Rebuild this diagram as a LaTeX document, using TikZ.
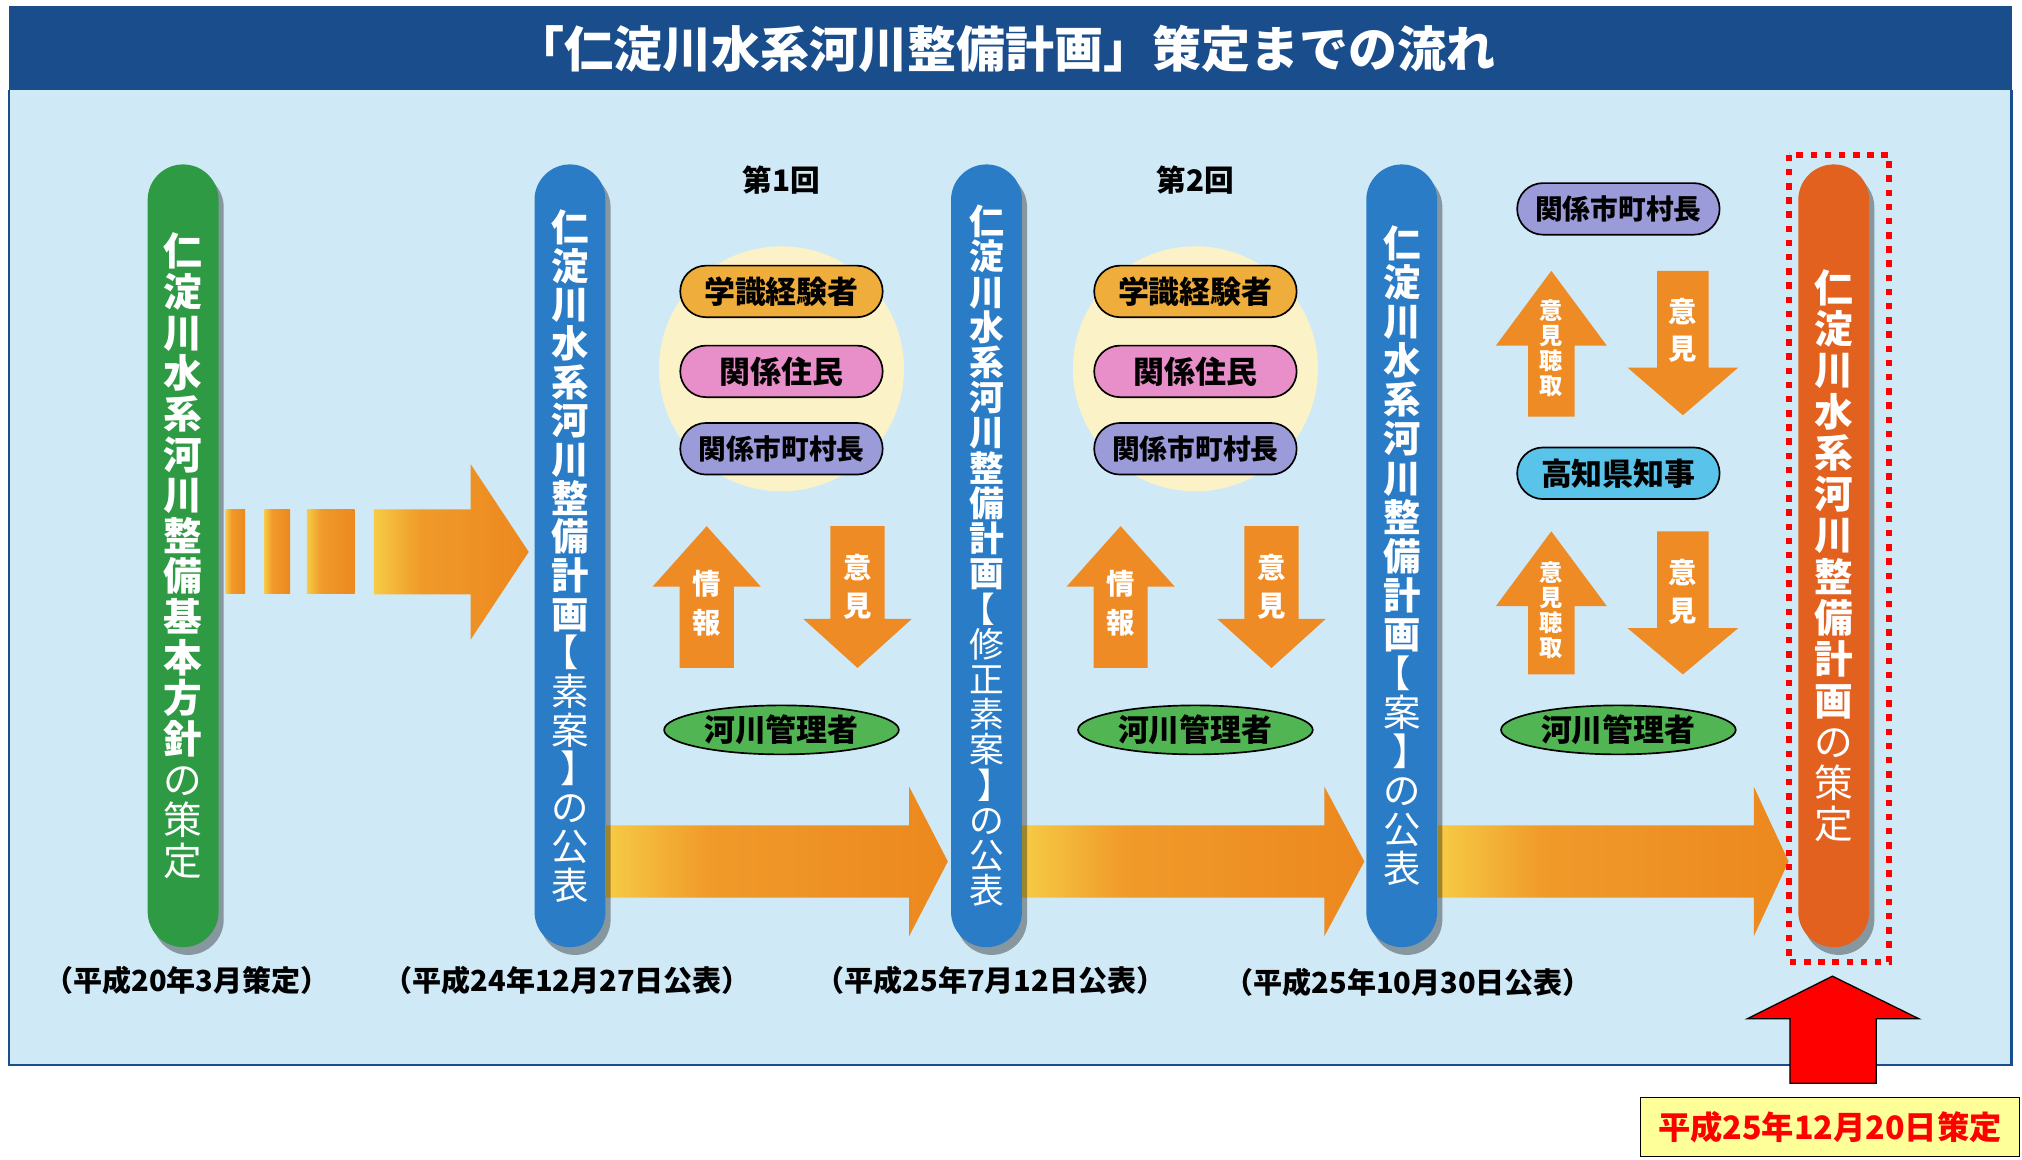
\documentclass[tikz,border=0pt]{standalone}
\usepackage{fontspec}
\setmainfont{Noto Sans CJK JP}
\usetikzlibrary{shapes.geometric,shadows}
\definecolor{titlebar}{HTML}{1A4D8C}
\definecolor{panel}{HTML}{CFE9F6}
\definecolor{pgreen}{HTML}{2F9A44}
\definecolor{pblue}{HTML}{2B7CC6}
\definecolor{porange}{HTML}{E2611F}
\definecolor{gold}{HTML}{EFAE3C}
\definecolor{spink}{HTML}{E88FCA}
\definecolor{spurple}{HTML}{9B9BDA}
\definecolor{slblue}{HTML}{5AC3EA}
\definecolor{egreen}{HTML}{52B553}
\definecolor{sarrow}{HTML}{EF8B25}
\definecolor{cream}{HTML}{FCF2C8}
\definecolor{ay}{HTML}{F6CB45}
\definecolor{ao}{HTML}{F09A2A}
\definecolor{ao2}{HTML}{EC881E}
\definecolor{ybox}{HTML}{FFFF99}
\pgfdeclarehorizontalshading{arrshade}{100bp}{color(0bp)=(ay); color(25bp)=(ay); color(40bp)=(ao); color(75bp)=(ao2); color(100bp)=(ao2)}
\def\vsend{vsend-marker}
\def\vlt{vlt-marker}
\def\vlb{\kern-0.5em【}
\def\vrb{】\kern-0.5em}
\def\vstack#1{\vstackA#1\vsend}
\def\vstackA#1{\ifx#1\vsend\else\ifx#1\vlt\mdseries\else\hbox to 1em{\hss#1\hss}\fi\expandafter\vstackA\fi}
\newcommand\vtext[3]{\vbox{\fontsize{#1}{#2}\selectfont\bfseries\lineskiplimit=-100pt\vstack{#3}}}
\newcommand\myUp[6]{\fill[sarrow] (#1,#2) -- (#1+#5,#3) -- (#1+#6,#3) -- (#1+#6,#4) -- (#1-#6,#4) -- (#1-#6,#3) -- (#1-#5,#3) -- cycle;}
\newcommand\myDown[6]{\fill[sarrow] (#1,#4) -- (#1+#5,#3) -- (#1+#6,#3) -- (#1+#6,#2) -- (#1-#6,#2) -- (#1-#6,#3) -- (#1-#5,#3) -- cycle;}
\newcommand\myRight[6]{\shade[shading=arrshade] (#1,#4-#5) -- (#2,#4-#5) -- (#2,#4-#6) -- (#3,#4) -- (#2,#4+#6) -- (#2,#4+#5) -- (#1,#4+#5) -- cycle;}
\newcommand\mySeg[4]{\shade[shading=arrshade] (#1,#3) rectangle (#2,#4);}
\begin{document}
\begin{tikzpicture}[x=1pt,y=-1pt,
  vpill/.style={rounded corners=27.5pt, minimum width=55pt, minimum height=607pt, inner sep=0pt, text=white,
    drop shadow={shadow xshift=4pt, shadow yshift=-6pt, opacity=0.35, fill=black}},
  spill/.style={draw=black, line width=1.3pt, rounded corners=20pt, minimum width=157pt, minimum height=40pt, inner sep=0pt,
    font=\fontsize{24}{24}\selectfont\bfseries},
  spill6/.style={spill, font=\fontsize{21.5}{21.5}\selectfont\bfseries},
  ell/.style={ellipse, draw=black, line width=1.3pt, fill=egreen, minimum width=182pt, minimum height=38pt, inner sep=0pt,
    font=\fontsize{24}{24}\selectfont\bfseries},
  date/.style={font=\fontsize{22.5}{22.5}\selectfont\bfseries, text=black},
  atext/.style={text=white, inner sep=0pt},
  round/.style={font=\fontsize{23}{23}\selectfont\bfseries}]
\useasboundingbox (0,0) rectangle (1568,899);
\fill[white] (0,0) rectangle (1568,899);
% panel
\fill[panel] (7,70) rectangle (1560,826);
\draw[titlebar, line width=2pt] (7,70) -- (7,826) -- (1560,826) -- (1560,70);
\fill[titlebar] (7,5) rectangle (1560,70);
\node[font=\fontsize{38}{38}\selectfont\bfseries, text=white] (title) at (780,38) {「仁淀川水系河川整備計画」策定までの流れ};
% big arrows
\mySeg{175}{190}{395}{460}
\mySeg{205}{225}{395}{460}
\mySeg{238}{275}{395}{460}
\myRight{290}{365}{410}{428}{33}{68}
\myRight{470}{705}{735}{668}{28}{58}
\myRight{793}{1027}{1058}{668}{28}{58}
\myRight{1115}{1360}{1387}{668}{28}{58}
% pills
\node[vpill, fill=pgreen] (p1) at (142,431) {\vtext{30}{31.5}{仁淀川水系河川整備基本方針\vlt の策定}};
\node[vpill, fill=pblue] (p2) at (442,431) {\vtext{29}{30}{仁淀川水系河川整備計画\vlt \vlb 素案\vrb の公表}};
\node[vpill, fill=pblue] (p3) at (765,431) {\vtext{27}{27.3}{仁淀川水系河川整備計画\vlt \vlb 修正素案\vrb の公表}};
\node[vpill, fill=pblue] (p4) at (1087,431) {\vtext{29}{30.3}{仁淀川水系河川整備計画\vlt \vlb 案\vrb の公表}};
\node[vpill, fill=porange] (p5) at (1422,431) {\vtext{30}{32}{仁淀川水系河川整備計画\vlt の策定}};
% dates
\node[date] (d1) at (145,760) {（平成20年3月策定）};
\node[date] (d2) at (440,760) {（平成24年12月27日公表）};
\node[date] (d3) at (768,760) {（平成25年7月12日公表）};
\node[date] (d4) at (1092,762) {（平成25年10月30日公表）};
% round 1
\node[round] (r1) at (606,140) {第1回};
\fill[cream] (606,286) circle (95);
\node[spill, fill=gold] (a1) at (606,226) {学識経験者};
\node[spill, fill=spink] (b1) at (606,288) {関係住民};
\node[spill6, fill=spurple] (c1) at (606,348) {関係市町村長};
\myUp{548}{408}{455}{518}{42}{21}
\myDown{665}{408}{480}{518}{42}{21}
\node[atext] (u1) at (548,468) {\vtext{22}{30}{情報}};
\node[atext] (v1) at (665,455) {\vtext{22}{30}{意見}};
\node[ell] (m1) at (606,566) {河川管理者};
% round 2
\node[round] (r2) at (927,140) {第2回};
\fill[cream] (927,286) circle (95);
\node[spill, fill=gold] (a2) at (927,226) {学識経験者};
\node[spill, fill=spink] (b2) at (927,288) {関係住民};
\node[spill6, fill=spurple] (c2) at (927,348) {関係市町村長};
\myUp{869}{408}{455}{518}{42}{21}
\myDown{986}{408}{480}{518}{42}{21}
\node[atext] (u2) at (869,468) {\vtext{22}{30}{情報}};
\node[atext] (v2) at (986,455) {\vtext{22}{30}{意見}};
\node[ell] (m2) at (927,566) {河川管理者};
% final
\node[spill6, fill=spurple] (f1) at (1255,162) {関係市町村長};
\myUp{1203}{210}{268}{323}{43}{18}
\myDown{1305}{210}{285}{322}{43}{20}
\node[atext] (u3) at (1203,270) {\vtext{18}{19.5}{意見聴取}};
\node[atext] (v3) at (1305,256) {\vtext{22}{29}{意見}};
\node[spill, fill=slblue] (f2) at (1255,367) {高知県知事};
\myUp{1203}{412}{470}{523}{43}{18}
\myDown{1305}{412}{487}{523}{43}{20}
\node[atext] (u4) at (1203,473) {\vtext{18}{19.5}{意見聴取}};
\node[atext] (v4) at (1305,459) {\vtext{22}{29}{意見}};
\node[ell] (m3) at (1255,566) {河川管理者};
% red highlight
\draw[red, line width=4.5pt, dash pattern=on 5pt off 6pt] (1387,120) rectangle (1465,746);
\fill[red, draw=black, line width=1pt] (1421,757) -- (1488,790) -- (1455,790) -- (1455,840) -- (1388,840) -- (1388,790) -- (1355,790) -- cycle;
\node[draw=black, line width=1pt, fill=ybox, minimum width=294pt, minimum height=46pt, inner sep=0pt, text=red,
  font=\fontsize{25}{25}\selectfont\bfseries] (fin) at (1419,874) {平成25年12月20日策定};
\end{tikzpicture}
\end{document}
